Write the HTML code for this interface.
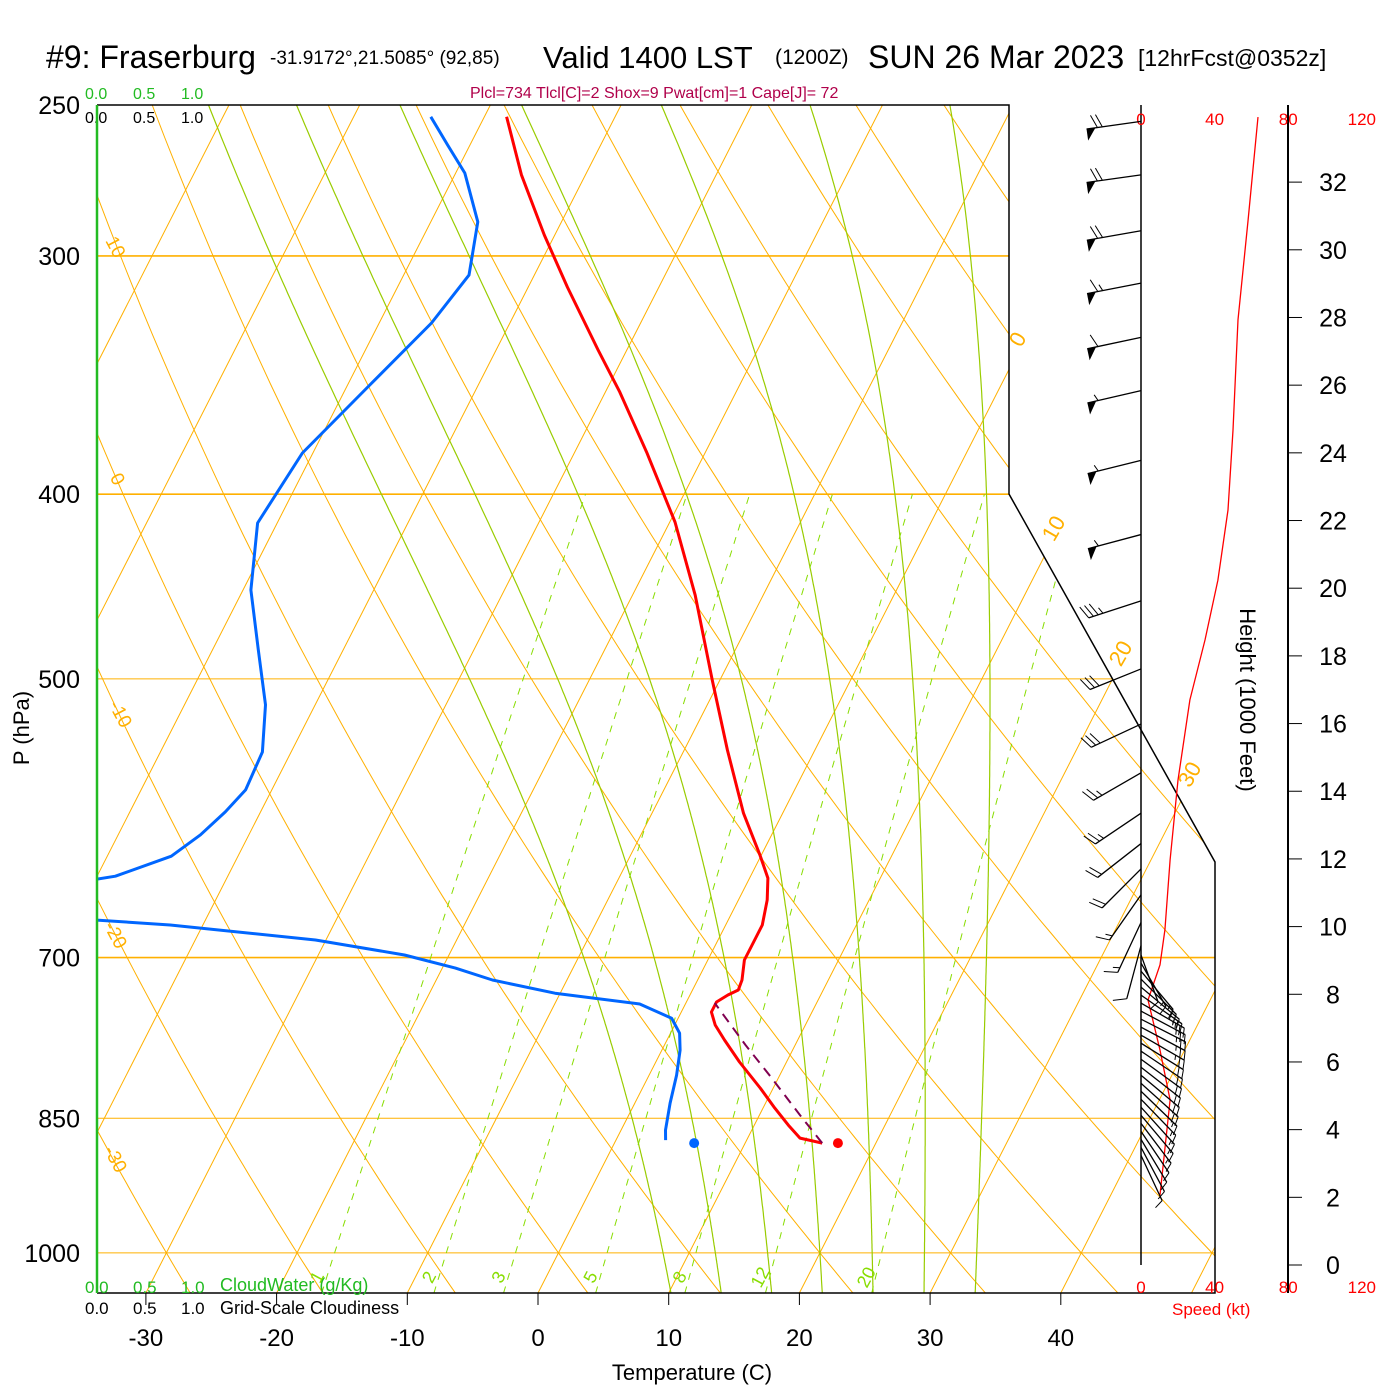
<!DOCTYPE html>
<html><head><meta charset="utf-8"><title>Skew-T Fraserburg</title>
<style>
html,body{margin:0;padding:0;background:#fff;}
svg{display:block;font-family:"Liberation Sans",Arial,sans-serif;}
</style></head>
<body>
<svg id="chart" width="1400" height="1400" viewBox="0 0 1400 1400" xmlns="http://www.w3.org/2000/svg">
<defs>
<clipPath id="plotclip"><polygon points="97,105 1009,105 1009,494 1215,862 1215,1293 97,1293"/></clipPath>
</defs>
<rect x="0" y="0" width="1400" height="1400" fill="#fff"/>
<g id="title">
<text x="46" y="68" font-size="32">#9: Fraserburg</text>
<text x="270" y="64" font-size="19">-31.9172°,21.5085° (92,85)</text>
<text x="543" y="68" font-size="31">Valid 1400 LST</text>
<text x="775" y="64" font-size="21">(1200Z)</text>
<text x="868" y="68" font-size="32">SUN 26 Mar 2023</text>
<text x="1138" y="66" font-size="23">[12hrFcst@0352z]</text>
</g>
<text x="470" y="98" font-size="16" fill="#b0004a">Plcl=734 Tlcl[C]=2 Shox=9 Pwat[cm]=1 Cape[J]= 72</text>
<g font-size="16">
<text x="85" y="99" fill="#22bb22">0.0</text><text x="133" y="99" fill="#22bb22">0.5</text><text x="181" y="99" fill="#22bb22">1.0</text>
<text x="85" y="123" fill="#000">0.0</text><text x="133" y="123" fill="#000">0.5</text><text x="181" y="123" fill="#000">1.0</text>
</g>
<g id="grid" clip-path="url(#plotclip)"></g>
<g id="traces" clip-path="url(#plotclip)"></g>
<g id="frame">
<polyline points="97,105 1009,105 1009,494 1215,862 1215,1293 97,1293" fill="none" stroke="#000" stroke-width="1.5"/>
<line x1="97" y1="105" x2="97" y2="1293" stroke="#22bb22" stroke-width="2.5"/>
</g>
<g id="axes"></g>
<g id="wind"></g>
<g font-size="17">
<text x="85" y="1293" fill="#22bb22">0.0</text><text x="133" y="1293" fill="#22bb22">0.5</text><text x="181" y="1293" fill="#22bb22">1.0</text>
<text x="220" y="1291" fill="#22bb22" font-size="18">CloudWater (g/Kg)</text>
<text x="85" y="1314" fill="#000">0.0</text><text x="133" y="1314" fill="#000">0.5</text><text x="181" y="1314" fill="#000">1.0</text>
<text x="220" y="1314" fill="#000" font-size="18">Grid-Scale Cloudiness</text>
</g>
<text x="692" y="1380" font-size="22" text-anchor="middle">Temperature (C)</text>
<text x="0" y="0" font-size="22" text-anchor="middle" transform="translate(29,728) rotate(-90)">P (hPa)</text>
<text x="0" y="0" font-size="22" text-anchor="middle" transform="translate(1240,700) rotate(90)">Height (1000 Feet)</text>
<text x="1172" y="1315" font-size="17" fill="#ff0000">Speed (kt)</text>
</svg>
<script>
// ---- data ----
const pressureTicks = [250,300,400,500,700,850,1000];
const tempTicks = [-30,-20,-10,0,10,20,30,40];
const isotherms = [-120,-110,-100,-90,-80,-70,-60,-50,-40,-30,-20,-10,0,10,20,30,40,50];
const dryAdiabats = [-40,-30,-20,-10,0,10,20,30,40,50,60,70,80,90,100,110,120,130,140,150,160,170,180];
const moistAdiabats = [8,12,16,20,24,28,32];
const mixingRatios = [1,2,3,5,8,12,20];
const tempP = [253.6,272.0,292.5,311.5,336.1,353.6,380.2,413.7,451.9,500.5,544.8,588.0,618.6,636.0,653.0,673.0,689.5,702.1,719.3,728.0,732.4,738.6,747.6,759.4,773.3,794.1,819.5,839.6,857.0,870.6,875.9];
const tempC = [-48.3,-44.9,-40.8,-37.0,-32.2,-28.9,-24.5,-19.6,-15.2,-10.6,-6.7,-3.0,-0.1,1.4,2.2,2.8,2.8,2.8,3.4,3.5,2.9,2.3,2.3,3.1,4.4,6.4,9.0,10.9,12.6,14.0,15.9];
const dewP = [253.6,262.4,271.4,287.9,307.0,325.3,350.6,380.6,414.2,449.1,482.7,515.9,546.1,571.7,587.1,603.6,619.4,634.5,636.8,650,669.1,673.0,685.3,697.9,709.0,719.3,730.8,740.4,753.2,767.0,782.9,806.8,834.6,862.2,872.7];
const dewC = [-54.1,-51.7,-49.3,-46.4,-45.0,-46.0,-48.3,-50.8,-51.5,-49.4,-46.5,-43.8,-42.2,-42.0,-42.7,-43.7,-45.1,-48.6,-49.9,-60,-48.3,-42.5,-30.8,-23.4,-19.0,-15.7,-10.4,-3.5,-0.5,0.7,1.4,2.1,2.7,3.4,3.8];
const parcelP = [875.9,846.7,806.8,778.0,739.5];
const parcelC = [15.9,13.1,9.2,6.2,2.2];
const surfaceP = 875.9;
const surfaceT = 17.1;
const surfaceTd = 6.1;
const barbP = [255,272,291,310,331,353,384,420,455,494,528,560,588,610,629,649,671,690];
const barbDir = [262,262,260,259,258,257,256,255,252,248,245,240,236,232,225,215,205,195];
const barbSpd = [70,70,70,65,60,55,55,55,35,30,30,25,25,20,20,15,15,10];
const lowBarbP = [697.9,704.7,711.6,718.5,725.5,732.5,739.6,746.8,754.1,761.4,768.8,776.3,783.8,791.5,799.2,806.9,814.8,822.7,830.7,838.7,846.9,855.2,863.5,871.9,880.4,888.9];
const lowBarbDir = [160,150,140,135,130,125,120,118,117,118,120,122,124,126,128,130,132,134,136,138,140,143,146,149,152,155];
const lowBarbSpd = [10,15,15,20,20,20,25,25,25,25,25,20,20,20,20,20,20,15,15,15,15,15,10,10,10,10];
const speedHeight = [2.07,4.88,6.35,7.83,8.87,9.90,11.97,14.33,16.7,18.47,20.24,22.31,24.67,27.93,30.88,33.92];
const speedKt = [10.3,15.8,10.3,3.8,10.3,13.0,15.8,20.1,26.6,34.8,41.8,47.3,50.0,52.7,58.2,63.6];
const heightTicks = [0,2,4,6,8,10,12,14,16,18,20,22,24,26,28,30,32];
const speedTicks = [0,40,80,120];

// ---- scales ----
const NS='http://www.w3.org/2000/svg';
function yP(p){return 105+828*Math.log(p/250);}
function xT(T,p){return 538+13.07*T+0.51*(1293-yP(p));}
function xSpd(s){return 1141+s*1.84;}
function yH(h){return 1265-h*33.84;}
function mk(tag,attrs,parent){const e=document.createElementNS(NS,tag);for(const k in attrs)e.setAttribute(k,attrs[k]);parent.appendChild(e);return e;}
const grid=document.getElementById('grid'),traces=document.getElementById('traces'),axes=document.getElementById('axes'),wind=document.getElementById('wind');
const ORANGE='#ffb000',GREEN='#99cc00',MIX='#88dd00';
function pathFrom(pts){return 'M'+pts.map(q=>q[0].toFixed(1)+','+q[1].toFixed(1)).join(' L');}

pressureTicks.forEach(p=>{
  const l=mk('line',{x1:97,x2:1215,y1:yP(p),y2:yP(p),stroke:ORANGE,'stroke-width':(p==300||p==400||p==700)?1.6:1},grid);
  
  
});
isotherms.forEach(T=>{
  const l=mk('line',{x1:xT(T,1050),y1:yP(1050),x2:xT(T,250),y2:yP(250),stroke:ORANGE,'stroke-width':1},grid);
  
  
});
dryAdiabats.forEach(th=>{
  const pts=[];for(let p=1050;p>=250;p-=10){const T=(th+273.15)*Math.pow(p/1000,0.2857)-273.15;pts.push([xT(T,p),yP(p)]);}
  const e=mk('path',{d:pathFrom(pts),fill:'none',stroke:ORANGE,'stroke-width':1},grid);
  
  
});
function es(Tc){return 6.112*Math.exp(17.67*Tc/(Tc+243.5));}
function dTdp(Tc,p){const T=Tc+273.15,e=es(Tc),rs=0.622*e/(p-e);return (287*T+2.5e6*rs)/(p*(1004+2.5e6*2.5e6*rs*0.622/(287*T*T)));}
moistAdiabats.forEach(tw=>{
  let T=tw;
  const up=[];for(let p=1000;p>=250;p-=2){up.push([p,T]);T-=dTdp(T,p)*2;}
  T=tw;const dn=[];for(let p=1000;p<=1050;p+=2){dn.push([p,T]);T+=dTdp(T,p)*2;}
  const pts=dn.reverse().concat(up).map(q=>[xT(q[1],q[0]),yP(q[0])]);
  const e=mk('path',{d:pathFrom(pts),fill:'none',stroke:GREEN,'stroke-width':1.2},grid);
  
  
});
mixingRatios.forEach(w=>{
  const pts=[];for(let p=1050;p>=400;p-=10){const e=w*p/(622+w),L=Math.log(e/6.112),Td=243.5*L/(17.67-L);pts.push([xT(Td,p),yP(p)]);}
  const e=mk('path',{d:pathFrom(pts),fill:'none',stroke:MIX,'stroke-width':1,'stroke-dasharray':'7,7'},grid);
  
  
  const e2=1040*w/(622+w),L2=Math.log(e2/6.112),Td2=243.5*L2/(17.67-L2);
  const t=mk('text',{x:0,y:0,'font-size':18,fill:MIX,'text-anchor':'middle',transform:'translate('+(xT(Td2,1040)-2).toFixed(1)+',1280) rotate(-62)'},axes);
  t.textContent=String(w);
  
  
});
[[0,1024,343],[10,1060,532],[20,1127,657],[30,1196,778]].forEach(a=>{
  const t=mk('text',{x:0,y:0,'font-size':22,fill:ORANGE,'text-anchor':'middle',transform:'translate('+a[1]+','+a[2]+') rotate(-60)'},axes);
  t.textContent=String(a[0]);
  
  
});
[[10,110,250],[0,112,482],[-10,115,717],[-20,110,938],[-30,110,1162]].forEach(a=>{
  const t=mk('text',{x:0,y:0,'font-size':19,fill:ORANGE,'text-anchor':'middle',transform:'translate('+a[1]+','+a[2]+') rotate(62)'},axes);
  t.textContent=String(a[0]);
  
  
});
function trace(P,C,color,w,name,dash){
  const pts=P.map((p,i)=>[xT(C[i],p),yP(p)]);
  const attrs={d:pathFrom(pts),fill:'none',stroke:color,'stroke-width':w,'stroke-linejoin':'round'};
  if(dash)attrs['stroke-dasharray']=dash;
  const e=mk('path',attrs,traces);
  
  
}
trace(tempP,tempC,'#ff0000',3,'temperature-line');
trace(dewP,dewC,'#0066ff',3,'dewpoint-line');
trace(parcelP,parcelC,'#800050',2,'parcel-path','10,7');
const d1=mk('circle',{cx:xT(surfaceT,surfaceP),cy:yP(surfaceP),r:5,fill:'#ff0000'},traces);


const d2=mk('circle',{cx:xT(surfaceTd,surfaceP),cy:yP(surfaceP),r:5,fill:'#0066ff'},traces);



pressureTicks.forEach(p=>{
  const t=mk('text',{x:80,y:yP(p)+9,'font-size':25,'text-anchor':'end'},axes);
  t.textContent=String(p);
  
  
});
tempTicks.forEach(T=>{
  const x=538+13.07*T;
  const l=mk('line',{x1:x,x2:x,y1:1293,y2:1305,stroke:'#000','stroke-width':1},axes);
  
  
  const t=mk('text',{x:x,y:1346,'font-size':24,'text-anchor':'middle'},axes);
  t.textContent=String(T);
  
  
});

const ax1=mk('line',{x1:1141,x2:1141,y1:105,y2:1265,stroke:'#000','stroke-width':1.5},wind);


const ax2=mk('line',{x1:1288,x2:1288,y1:105,y2:1293,stroke:'#000','stroke-width':2},wind);


heightTicks.forEach(h=>{
  const l=mk('line',{x1:1288,x2:1302,y1:yH(h),y2:yH(h),stroke:'#000','stroke-width':1},wind);
  
  
  const t=mk('text',{x:1333,y:yH(h)+9,'font-size':25,'text-anchor':'middle'},wind);
  t.textContent=String(h);
  
  
});
speedTicks.forEach(s=>{
  const t=mk('text',{x:xSpd(s),y:125,'font-size':17,fill:'#ff0000','text-anchor':'middle'},wind);
  t.textContent=String(s);
  
  
  const t2=mk('text',{x:xSpd(s),y:1293,'font-size':17,fill:'#ff0000','text-anchor':'middle'},wind);
  t2.textContent=String(s);
  
  
});
const sp=mk('path',{d:pathFrom(speedKt.map((s,i)=>[xSpd(s),yH(speedHeight[i])])),fill:'none',stroke:'#ff0000','stroke-width':1.3},wind);



function barb(y0,dir,spd,L,fl,name){
  const r=dir*Math.PI/180,sx=Math.sin(r),sy=-Math.cos(r);
  const px=-sy,py=sx;
  const g=mk('g',{},wind);
  
  
  const x0=1141,tx=x0+sx*L,ty=y0+sy*L;
  mk('line',{x1:x0,y1:y0,x2:tx,y2:ty,stroke:'#000','stroke-width':1.3},g);
  let s=Math.round(spd/5)*5,pos=0;
  while(s>=50){
    const ax=tx-sx*pos,ay=ty-sy*pos,bx=tx-sx*(pos+9),by=ty-sy*(pos+9);
    mk('polygon',{points:ax+','+ay+' '+bx+','+by+' '+(ax-px*fl*0.9)+','+(ay-py*fl*0.9),fill:'#000'},g);
    pos+=11;s-=50;
  }
  while(s>=10){
    const ax=tx-sx*pos,ay=ty-sy*pos;
    mk('line',{x1:ax,y1:ay,x2:ax+px*fl+sx*fl*0.4,y2:ay+py*fl+sy*fl*0.4,stroke:'#000','stroke-width':1},g);
    pos+=5;s-=10;
  }
  if(s>=5){
    const ax=tx-sx*pos,ay=ty-sy*pos;
    mk('line',{x1:ax,y1:ay,x2:ax+px*fl*0.5+sx*fl*0.2,y2:ay+py*fl*0.5+sy*fl*0.2,stroke:'#000','stroke-width':1},g);
  }
}
barbP.forEach((p,i)=>barb(yP(p),barbDir[i],barbSpd[i],55,13,'wind-barb'));
lowBarbP.forEach((p,i)=>barb(yP(p),lowBarbDir[i],lowBarbSpd[i],50,9,'low-wind-barb'));
</script>
</body></html>
